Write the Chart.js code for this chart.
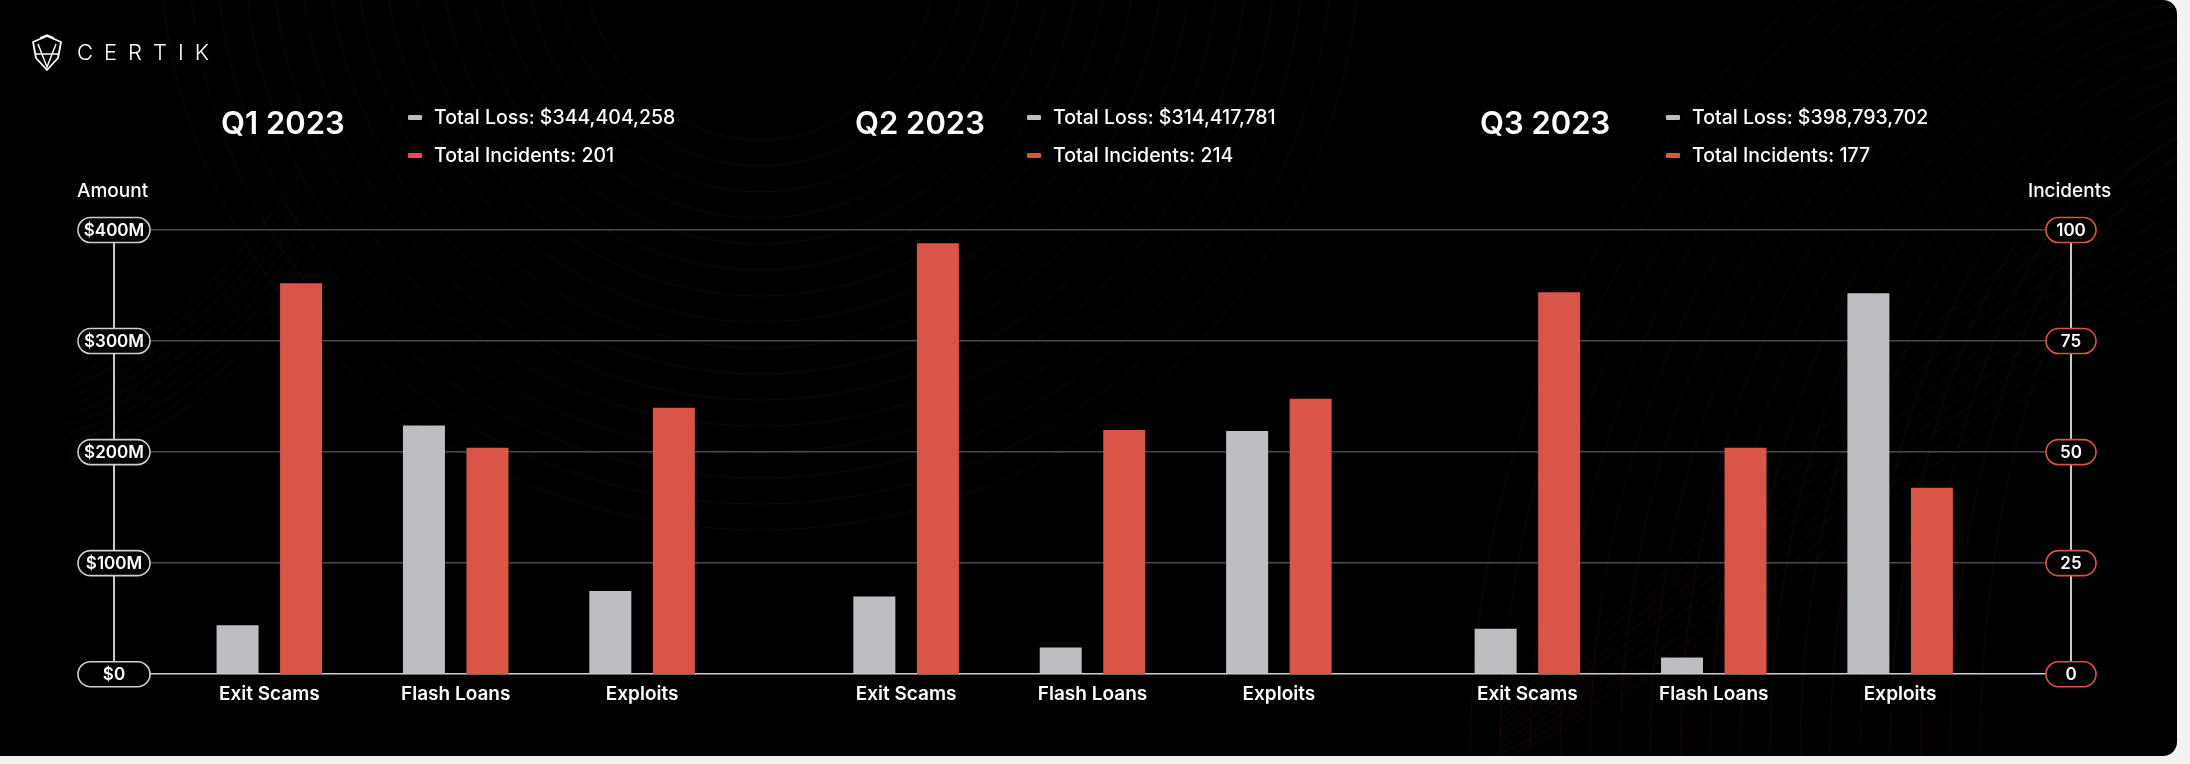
<!DOCTYPE html>
<html>
<head>
<meta charset="utf-8">
<script src="https://cdn.jsdelivr.net/npm/chart.js@4.4.1/dist/chart.umd.min.js"></script>
<style>
  html, body { margin: 0; padding: 0; background: #f3f3f1; }
  body { width: 2190px; height: 764px; overflow: hidden; position: relative; font-family: Inter, "Noto Sans", sans-serif; }
  #card { position: absolute; left: 0; top: 0; width: 2177px; height: 756px; background: #000; border-radius: 0 14px 14px 0; overflow: hidden; }
  #bg, #chart { position: absolute; left: 0; top: 0; }
  .t { position: absolute; color: #fff; white-space: nowrap; line-height: 1; }
  .qt { font-size: 31px; font-weight: 600; }
  .lg { font-size: 19.5px; font-weight: 500; }
  .dash { position: absolute; width: 14px; height: 5px; border-radius: 1px; }
  .ax { font-size: 19px; font-weight: 500; }
  #brand { position: absolute; left: 77px; top: 41px; color: #fff; font-size: 22px; font-weight: 300; letter-spacing: 11px; line-height: 1; }
</style>
</head>
<body>
<div id="card">
  <canvas id="bg" width="2177" height="756"></canvas>
  <canvas id="chart" width="2177" height="756"></canvas>
  <svg style="position:absolute;left:30px;top:34px" width="34" height="38" viewBox="0 0 34 38">
    <path d="M17 2 L31 8 L28 24 L17 36 L6 24 L3 8 Z" fill="none" stroke="#fff" stroke-width="1.8" stroke-linejoin="round"/>
    <path d="M8 10 L17 33 L26 10" fill="none" stroke="#fff" stroke-width="1.5"/>
    <path d="M5 20 L29 20" stroke="#fff" stroke-width="1.5"/>
    <path d="M10 4 L17 1 L24 4" fill="none" stroke="#fff" stroke-width="1.5"/>
  </svg>
  <div id="brand">CERTIK</div>
  <div id="texts"></div>
</div>
<script>
// categories per quarter
const quarters = ['Q1 2023', 'Q2 2023', 'Q3 2023'];
const categories = ['Exit Scams', 'Flash Loans', 'Exploits'];

// amount lost, millions of USD (per quarter: exit scams, flash loans, exploits)
const lossQ1 = [44, 224, 75];
const lossQ2 = [70, 24, 219];
const lossQ3 = [41, 15, 343];

// incident counts
const incidentsQ1 = [88, 51, 60];
const incidentsQ2 = [97, 55, 62];
const incidentsQ3 = [86, 51, 42];

// header totals
const totalLoss = ['$344,404,258', '$314,417,781', '$398,793,702'];
const totalIncidents = [201, 214, 177];

// axis ticks
const amountTicks = [0, 100, 200, 300, 400];
const amountTickLabels = ['$0', '$100M', '$200M', '$300M', '$400M'];
const incidentTicks = [0, 25, 50, 75, 100];
const incidentTickLabels = ['0', '25', '50', '75', '100'];

const GRAY = '#bdbec1';
const RED = '#d95548';

// slot layout on the category axis (spacer slots keep the quarter gaps)
const LEAD = 10, STEP = 12, GAPS = [17, 16], TRAIL = 11;
const lossAll = [lossQ1, lossQ2, lossQ3];
const incAll = [incidentsQ1, incidentsQ2, incidentsQ3];
const slotIdx = [];
let pos = LEAD;
quarters.forEach((q, qi) => {
  categories.forEach((c, ci) => {
    slotIdx.push(pos);
    if (ci < categories.length - 1) pos += STEP;
  });
  if (qi < quarters.length - 1) pos += GAPS[qi];
});
const nSlots = pos + TRAIL + 1;
const labels = new Array(nSlots).fill('');
const lossData = new Array(nSlots).fill(null);
const incData = new Array(nSlots).fill(null);
let k = 0;
quarters.forEach((q, qi) => {
  categories.forEach((c, ci) => {
    labels[slotIdx[k]] = c;
    lossData[slotIdx[k]] = lossAll[qi][ci];
    incData[slotIdx[k]] = incAll[qi][ci];
    k++;
  });
});

// faint decorative wave lines behind the chart
(function drawBackground() {
  const c = document.getElementById('bg').getContext('2d');
  c.lineWidth = 1;
  c.strokeStyle = 'rgba(120, 35, 35, 0.2)';
  for (let i = 0; i < 16; i++) {
    c.beginPath();
    c.ellipse(760, -60, 180 + i * 28, 200 + i * 26, 0, 0, Math.PI);
    c.stroke();
  }
  for (let i = 0; i < 10; i++) {
    c.beginPath();
    c.moveTo(70, 460 - i * 9);
    c.quadraticCurveTo(200, 430 - i * 12, 300, 300 - i * 14);
    c.stroke();
  }
  for (let i = 0; i < 18; i++) {
    c.beginPath();
    c.ellipse(2240, 760, 260 + i * 30, 620 + i * 18, 0, Math.PI, Math.PI * 1.5);
    c.stroke();
  }
  for (let i = 0; i < 10; i++) {
    c.beginPath();
    c.moveTo(1500, 760 - i * 6);
    c.bezierCurveTo(1750, 650 - i * 14, 1950, 420 - i * 16, 2177, 300 - i * 18);
    c.stroke();
  }
})();

// header texts
const texts = document.getElementById('texts');
const qLeft = [221, 855, 1480];
const dashLeft = [408, 1027, 1666];
function addText(str, cls, left, top) {
  const d = document.createElement('div');
  d.className = 't ' + cls;
  d.style.left = left + 'px';
  d.style.top = top + 'px';
  d.textContent = str;
  texts.appendChild(d);
}
function addDash(color, left, top) {
  const d = document.createElement('div');
  d.className = 'dash';
  d.style.background = color;
  d.style.left = left + 'px';
  d.style.top = top + 'px';
  texts.appendChild(d);
}
quarters.forEach((q, i) => {
  addText(q, 'qt', qLeft[i], 107);
  addDash(GRAY, dashLeft[i], 115);
  addDash(RED, dashLeft[i], 153);
  addText('Total Loss: ' + totalLoss[i], 'lg', dashLeft[i] + 26, 108);
  addText('Total Incidents: ' + totalIncidents[i], 'lg', dashLeft[i] + 26, 146);
});
addText('Amount', 'ax', 77, 181);
addText('Incidents', 'ax', 2028, 181);

// rounded tick pills on both value axes
const pillPlugin = {
  id: 'pills',
  afterDraw(chart) {
    const ctx = chart.ctx;
    const drawPills = (scale, ticks, tickLabels, border, x, w) => {
      ticks.forEach((v, i) => {
        const y = scale.getPixelForValue(v);
        ctx.save();
        ctx.beginPath();
        ctx.roundRect(x - w / 2, y - 12.5, w, 25, 12.5);
        ctx.fillStyle = '#000';
        ctx.fill();
        ctx.lineWidth = 1.6;
        ctx.strokeStyle = border;
        ctx.stroke();
        ctx.fillStyle = '#fff';
        ctx.font = '600 17px Inter, "Noto Sans", sans-serif';
        ctx.textAlign = 'center';
        ctx.textBaseline = 'middle';
        ctx.fillText(tickLabels[i], x, y + 1);
        ctx.restore();
      });
    };
    const a = chart.chartArea;
    drawPills(chart.scales.y, amountTicks, amountTickLabels, '#cfcfcf', a.left, 72);
    drawPills(chart.scales.y1, incidentTicks, incidentTickLabels, RED, a.right, 50);
  }
};

new Chart(document.getElementById('chart'), {
  type: 'bar',
  data: {
    labels: labels,
    datasets: [
      { label: 'Total Loss', data: lossData, yAxisID: 'y', backgroundColor: GRAY,
        categoryPercentage: 8.18, barPercentage: 0.661 },
      { label: 'Total Incidents', data: incData, yAxisID: 'y1', backgroundColor: RED,
        categoryPercentage: 8.18, barPercentage: 0.661 }
    ]
  },
  options: {
    responsive: false,
    animation: false,
    layout: { padding: { left: 114, right: 106, top: 230, bottom: 41 } },
    plugins: { legend: { display: false }, tooltip: { enabled: false } },
    scales: {
      x: {
        offset: false,
        grid: { display: false, drawTicks: false },
        border: { display: false },
        ticks: { autoSkip: false, maxRotation: 0, minRotation: 0, padding: 9, color: '#fff',
                 font: { family: 'Inter', size: 19, weight: '600' } }
      },
      y: {
        position: 'left', min: 0, max: 400,
        ticks: { display: false, stepSize: 100 },
        grid: { drawTicks: false, lineWidth: 1.5,
                color: c => (c.tick && c.tick.value === 0) ? '#d0d0d0' : '#4a4a4a' },
        border: { color: '#c8c8c8', width: 2 },
        afterFit: s => { s.width = 0; }
      },
      y1: {
        position: 'right', min: 0, max: 100,
        ticks: { display: false, stepSize: 25 },
        grid: { display: false, drawTicks: false },
        border: { color: '#c8c8c8', width: 2 },
        afterFit: s => { s.width = 0; }
      }
    }
  },
  plugins: [pillPlugin]
});
</script>
</body>
</html>
